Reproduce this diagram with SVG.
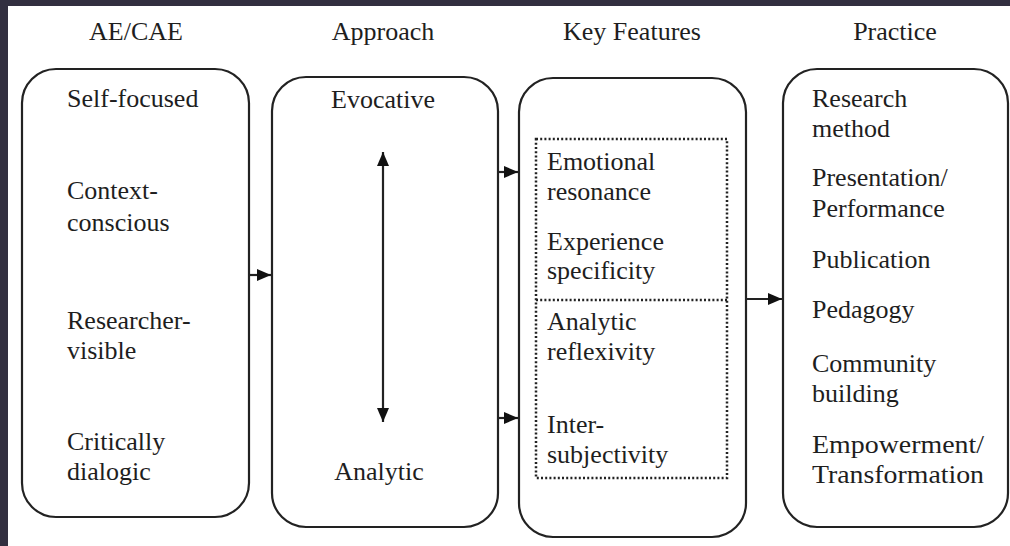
<svg xmlns="http://www.w3.org/2000/svg" width="1010" height="546" viewBox="0 0 1010 546">
<defs>
<style>
text{font-family:'Liberation Serif','DejaVu Serif',serif;font-size:26px;fill:#1e1e1e;}
.h{text-anchor:middle;}
.box{fill:#fff;stroke:#222;stroke-width:2.2;}
.dot{fill:none;stroke:#222;stroke-width:2.5;stroke-dasharray:2 2.2;}
.ln{fill:none;stroke:#222;stroke-width:2.2;}
</style>
<marker id="ah" viewBox="0 0 14 12" refX="14" refY="6" markerWidth="14" markerHeight="12" markerUnits="userSpaceOnUse" orient="auto-start-reverse">
<path d="M0,0 L14,6 L0,12 Z" fill="#111"/>
</marker>
</defs>
<rect x="0" y="0" width="1010" height="546" fill="#fff"/>
<rect x="0" y="0" width="1010" height="6" fill="#322f40"/>
<rect x="0" y="0" width="8" height="546" fill="#322f40"/>

<g id="headers">
<text class="h" x="136" y="40">AE/CAE</text>
<text class="h" x="383" y="40">Approach</text>
<text class="h" x="632" y="40">Key Features</text>
<text class="h" x="895" y="40">Practice</text>
</g>

<g id="node-aecae">
<rect class="box" x="22" y="69" width="227" height="448" rx="34"/>
<text x="67" y="107">Self-focused</text>
<text x="67" y="199">Context-</text>
<text x="67" y="231">conscious</text>
<text x="67" y="329">Researcher-</text>
<text x="67" y="359">visible</text>
<text x="67" y="450">Critically</text>
<text x="67" y="480">dialogic</text>
</g>

<g id="node-approach">
<rect class="box" x="272" y="77" width="226" height="450" rx="34"/>
<text class="h" x="383" y="108">Evocative</text>
<text class="h" x="379" y="480">Analytic</text>
</g>

<g id="node-keyfeatures">
<rect class="box" x="519" y="78" width="227" height="459" rx="34"/>
<rect class="dot" x="536" y="139" width="191" height="339"/>
<line class="dot" x1="536" y1="300" x2="727" y2="300"/>
<text x="547" y="170">Emotional</text>
<text x="547" y="200">resonance</text>
<text x="547" y="250">Experience</text>
<text x="547" y="279">specificity</text>
<text x="547" y="330">Analytic</text>
<text x="547" y="360">reflexivity</text>
<text x="547" y="433">Inter-</text>
<text x="547" y="463">subjectivity</text>
</g>

<g id="node-practice">
<rect class="box" x="783" y="69" width="225" height="458" rx="34"/>
<text x="812" y="107">Research</text>
<text x="812" y="137">method</text>
<text x="812" y="186">Presentation/</text>
<text x="812" y="217">Performance</text>
<text x="812" y="268">Publication</text>
<text x="812" y="318">Pedagogy</text>
<text x="812" y="372">Community</text>
<text x="812" y="402">building</text>
<text x="812" y="453" textLength="172" lengthAdjust="spacingAndGlyphs">Empowerment/</text>
<text x="812" y="483" textLength="172" lengthAdjust="spacingAndGlyphs">Transformation</text>
</g>

<g id="connectors">
<line class="ln" x1="249" y1="275" x2="271" y2="275" marker-end="url(#ah)"/>
<line class="ln" x1="383" y1="152" x2="383" y2="422" marker-start="url(#ah)" marker-end="url(#ah)"/>
<line class="ln" x1="498" y1="172" x2="518" y2="172" marker-end="url(#ah)"/>
<line class="ln" x1="498" y1="418" x2="518" y2="418" marker-end="url(#ah)"/>
<line class="ln" x1="746" y1="299" x2="782" y2="299" marker-end="url(#ah)"/>
</g>
</svg>
